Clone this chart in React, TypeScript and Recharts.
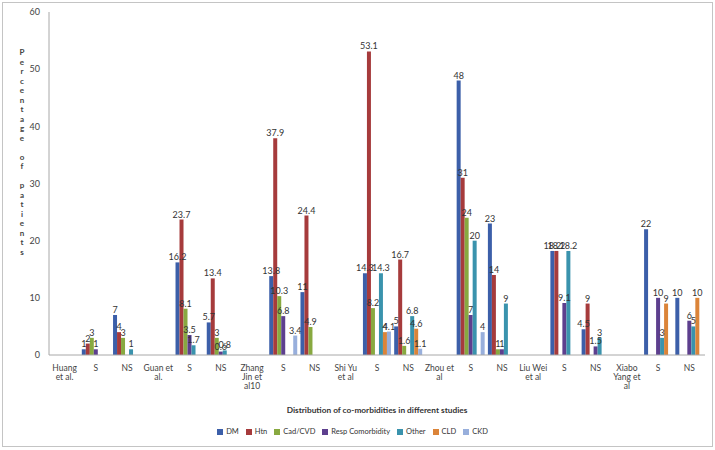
import { BarChart, Bar, XAxis, YAxis, Legend, LabelList, Label } from 'recharts';

// category labels ("\n" = line break in the tick)
const categories = [
    "Huang\net al.", "S", "NS",
    "Guan  et\nal.", "S", "NS",
    "Zhang\nJin et\nal10", "S", "NS",
    "Shi Yu\net al", "S", "NS",
    "Zhou et\nal", "S", "NS",
    "Liu Wei\net al", "S", "NS",
    "Xiabo\nYang et\nal", "S", "NS",
];

const dm = [null, 1, 7, null, 16.2, 5.7, null, 13.8, 11, null, 14.3, 5, null, 48, 23, null, 18.2, 4.5, null, 22, 10];
const htn = [null, 2, 4, null, 23.7, 13.4, null, 37.9, 24.4, null, 53.1, 16.7, null, 31, 14, null, 18.2, 9, null, null, null];
const cad = [null, 3, 3, null, 8.1, 3, null, 10.3, 4.9, null, 8.2, 1.6, null, 24, 1, null, null, null, null, null, null];
const resp = [null, 1, 0, null, 3.5, 0.6, null, 6.8, 0, null, null, null, null, 7, 1, null, 9.1, 1.5, null, 10, 6];
const other = [null, 0, 1, null, 1.7, 0.8, null, null, null, null, 14.3, 6.8, null, 20, 9, null, 18.2, 3, null, 3, 5];
const cld = [null, null, null, null, null, null, null, null, null, null, 4, 4.6, null, null, null, null, null, null, null, 9, 10];
const ckd = [null, null, null, null, null, null, null, 3.4, 0, null, 4.1, 1.1, null, 4, 0, null, null, null, null, null, null];

const yTicks = [0, 10, 20, 30, 40, 50, 60];

const series = [
    { key: "dm", name: "DM", values: dm, color: "#3c5fa9" },
    { key: "htn", name: "Htn", values: htn, color: "#a63b3c" },
    { key: "cad", name: "Cad/CVD", values: cad, color: "#88a940" },
    { key: "resp", name: "Resp Comorbidity", values: resp, color: "#5d3f8e" },
    { key: "other", name: "Other", values: other, color: "#3a93ad" },
    { key: "cld", name: "CLD", values: cld, color: "#db8439" },
    { key: "ckd", name: "CKD", values: ckd, color: "#98afdc" },
];

const data = categories.map((label, i) => {
    const row: Record<string, any> = { id: i, label };
    series.forEach((s) => { row[s.key] = s.values[i]; });
    return row;
});

const FONT = "Lato, 'Open Sans', sans-serif";

function CategoryTick(props: any) {
    const { x, y, payload } = props;
    const lines = categories[payload.value].split("\n");
    return (
        <text x={x} y={y + 8} textAnchor="middle" fontSize={8.5} fill="#444" fontFamily={FONT}>
            {lines.map((line, i) => (
                <tspan key={i} x={x} dy={i === 0 ? 0 : 9}>{line}</tspan>
            ))}
        </text>
    );
}

const yTitle = "Percentage of patients";

function YTitle() {
    return (
        <text x={22} fontSize={8} fontWeight="bold" fill="#444" fontFamily={FONT} textAnchor="middle">
            {yTitle.split("").map((ch, i) => (
                <tspan key={i} x={22} y={55 + i * 9.5}>{ch === " " ? "\u00a0" : ch}</tspan>
            ))}
        </text>
    );
}

function XTitle(props: any) {
    const { viewBox } = props;
    return (
        <text x={viewBox.x + viewBox.width / 2} y={viewBox.y + 58} textAnchor="middle"
            fontSize={8.3} fontWeight="bold" fill="#333" fontFamily={FONT}>
            Distribution of co-morbidities in different studies
        </text>
    );
}

function LegendRow() {
    return (
        <div style={{ display: "flex", justifyContent: "center", gap: 7, fontSize: 7.5, fontFamily: FONT, color: "#333" }}>
            {series.map((s) => (
                <span key={s.key} style={{ display: "flex", alignItems: "center" }}>
                    <span style={{ width: 6, height: 6, background: s.color, marginRight: 3, display: "inline-block" }} />
                    {s.name}
                </span>
            ))}
        </div>
    );
}

function App() {
    return (
        <div style={{ position: "absolute", left: 0, top: 0, width: 715, height: 450, background: "#fff" }}>
            <div style={{ position: "absolute", left: 2, top: 2, width: 709, height: 443, border: "1px solid #c4c4c4" }} />
            <BarChart
                width={715}
                height={450}
                data={data}
                margin={{ top: 12, right: 10, left: 0, bottom: 11 }}
                barCategoryGap="5%"
                barGap={0}
            >
                <XAxis
                    dataKey="id"
                    type="category"
                    interval={0}
                    height={72}
                    tick={<CategoryTick />}
                    tickLine={false}
                    axisLine={{ stroke: "#a8a8a8" }}
                >
                    <Label content={<XTitle />} />
                </XAxis>
                <YAxis
                    width={49}
                    domain={[0, 60]}
                    ticks={yTicks}
                    tickLine={false}
                    tickMargin={3}
                    axisLine={{ stroke: "#a8a8a8" }}
                    tick={{ fontSize: 9, fill: "#444", fontFamily: FONT }}
                >
                    <Label content={<YTitle />} />
                </YAxis>
                <Legend verticalAlign="bottom" height={12} content={<LegendRow />} />
                {series.map((s) => (
                    <Bar key={s.key} dataKey={s.key} name={s.name} fill={s.color} isAnimationActive={false}>
                        <LabelList
                            dataKey={s.key}
                            position="top"
                            offset={2}
                            fontSize={9}
                            fill="#333"
                            fontFamily={FONT}
                            formatter={(v: any) => (v == null ? "" : v)}
                        />
                    </Bar>
                ))}
            </BarChart>
        </div>
    );
}

export default App;
